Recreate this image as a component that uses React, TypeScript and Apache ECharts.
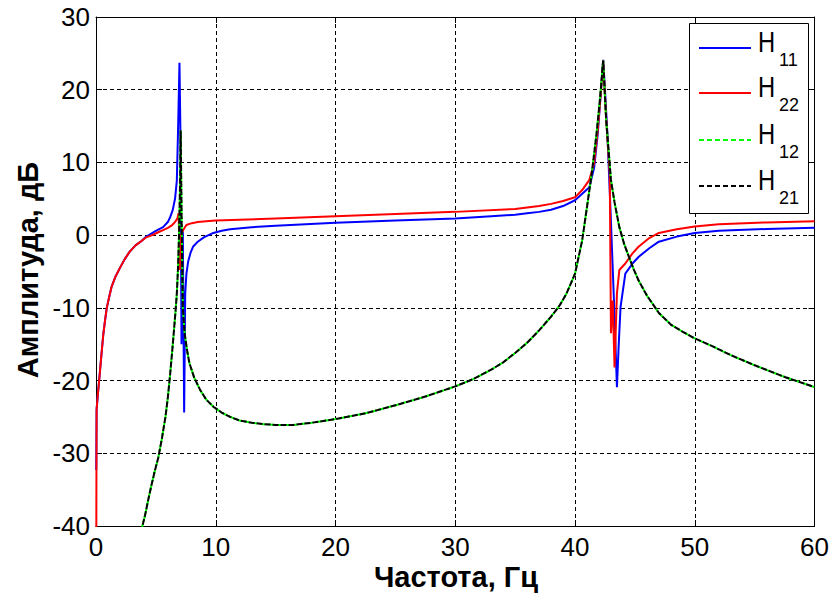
import React, { useEffect, useRef } from "react";
import * as echarts from "echarts";

// ---- data ----
const xTicks = [0, 10, 20, 30, 40, 50, 60];
const yTicks = [-40, -30, -20, -10, 0, 10, 20, 30];

const freqH11 = [0.02, 0.05, 0.15, 0.3, 0.45, 0.6, 0.75, 0.9, 1.1, 1.3, 1.6, 2.0, 2.4, 2.8, 3.3, 3.8, 4.2, 5.0, 5.6, 6.0, 6.2, 6.4, 6.6, 6.75, 6.86, 6.97, 7.05, 7.14, 7.25, 7.36, 7.45, 7.55, 7.7, 7.9, 8.1, 8.5, 9.0, 9.8, 10.5, 11.2, 13, 15, 20, 25, 30, 33, 35, 36, 37, 38, 39, 40, 40.6, 41.2, 41.6, 41.9, 42.15, 42.35, 42.5, 42.7, 42.95, 43.25, 43.5, 43.65, 43.8, 44.2, 44.8, 45.3, 46.2, 47, 48.5, 50, 52, 56, 60];
const ampH11 = [-32.3, -24, -22, -19.3, -16.5, -13.8, -11.8, -10, -8.5, -7.1, -5.8, -4.5, -3.3, -2.3, -1.4, -0.8, -0.2, 0.6, 1.1, 1.8, 2.5, 3.4, 5.0, 7.5, 15, 23.7, 14, -15, 0.5, -24.4, -8, -5.3, -3.6, -2.4, -1.6, -0.9, -0.3, 0.3, 0.6, 0.8, 1.1, 1.3, 1.7, 2.0, 2.3, 2.6, 2.8, 3.0, 3.2, 3.5, 4.0, 4.8, 5.7, 6.6, 9.3, 14, 19.5, 24.1, 20, 14, 4, -9, -20.9, -15, -9.9, -5.3, -3.9, -3.0, -1.8, -0.9, -0.2, 0.3, 0.6, 0.85, 1.0];

const freqH22 = [0.02, 0.05, 0.15, 0.3, 0.45, 0.6, 0.75, 0.9, 1.1, 1.3, 1.6, 2.0, 2.4, 2.8, 3.3, 3.8, 4.2, 4.7, 5.2, 5.6, 6.0, 6.3, 6.6, 6.8, 6.9, 7.0, 7.1, 7.28, 7.55, 8.0, 8.5, 9.2, 10, 15, 20, 25, 30, 35, 36, 37, 38, 39, 40, 40.6, 41.2, 41.6, 41.9, 42.15, 42.35, 42.6, 42.9, 43.0, 43.15, 43.3, 43.5, 43.7, 44.2, 44.8, 45.3, 46.2, 47, 48.5, 50, 52, 56, 60];
const ampH22 = [-45, -24, -22, -19.3, -16.5, -13.8, -11.8, -10, -8.5, -7.1, -5.8, -4.5, -3.3, -2.3, -1.4, -0.8, -0.3, 0.0, 0.4, 0.7, 1.0, 1.3, 1.8, 2.3, 3.0, -4.8, 0.0, 0.7, 1.4, 1.65, 1.8, 1.9, 2.0, 2.3, 2.6, 2.9, 3.2, 3.6, 3.8, 4.0, 4.3, 4.7, 5.2, 6.2, 7.6, 10, 14.5, 19.5, 24.0, 16, 8.5, -13.5, -9, -18.2, -8, -4.8, -3.9, -2.5, -1.6, -0.4, 0.3, 0.8, 1.2, 1.5, 1.75, 1.9];

const freqCross = [3.8, 4.1, 4.35, 4.6, 4.9, 5.2, 5.5, 5.8, 6.0, 6.17, 6.35, 6.5, 6.65, 6.75, 6.85, 6.95, 7.03, 7.07, 7.15, 7.25, 7.4, 7.6, 7.8, 8.2, 8.7, 9.2, 9.8, 10.5, 11.2, 12, 13, 14, 15, 16.5, 18, 20, 22.5, 25, 27.5, 30, 31.5, 33, 34, 35, 36, 37, 38, 38.7, 39.3, 40, 40.6, 41, 41.4, 41.8, 42.1, 42.35, 42.6, 43, 43.3, 43.7, 44.1, 44.5, 44.9, 45.3, 46, 47, 48, 49, 50, 51.5, 53, 55, 57.5, 60];
const ampH12 = [-40.5, -38.5, -36.5, -34.6, -32.5, -30.6, -28, -25, -22.3, -19.5, -16.2, -13.3, -10.3, -8, -4.5, 1, 8, 14.4, 2, -10, -13.5, -15.8, -17.6, -19.6, -21.3, -22.6, -23.6, -24.4, -25, -25.5, -25.8, -26.0, -26.1, -26.1, -25.8, -25.3, -24.5, -23.4, -22.2, -20.8, -19.8, -18.5, -17.5, -16.2, -14.8, -13.1, -11.2, -9.7, -8, -5.3, -0.7, 3.9, 8.5, 14, 19, 24, 15.8, 7.6, 4.5, 1.1, -1.2, -3, -4.7, -6.2, -8.3, -10.7, -12.3, -13.3, -14.2, -15.3, -16.5, -17.9, -19.5, -20.9];
const ampH21 = [-40.5, -38.5, -36.5, -34.6, -32.5, -30.6, -28, -25, -22.3, -19.5, -16.2, -13.3, -10.3, -8, -4.5, 1, 8, 14.4, 2, -10, -13.5, -15.8, -17.6, -19.6, -21.3, -22.6, -23.6, -24.4, -25, -25.5, -25.8, -26.0, -26.1, -26.1, -25.8, -25.3, -24.5, -23.4, -22.2, -20.8, -19.8, -18.5, -17.5, -16.2, -14.8, -13.1, -11.2, -9.7, -8, -5.3, -0.7, 3.9, 8.5, 14, 19, 24, 15.8, 7.6, 4.5, 1.1, -1.2, -3, -4.7, -6.2, -8.3, -10.7, -12.3, -13.3, -14.2, -15.3, -16.5, -17.9, -19.5, -20.9];

const seriesNames = ["H11", "H22", "H12", "H21"];
const legendSubs = ["11", "22", "12", "21"];

const zip = (xs: number[], ys: number[]) => xs.map((x, i) => [x, ys[i]]);

const FONT = "Arial, 'Liberation Sans', Helvetica, sans-serif";

export default function App() {
  const ref = useRef<HTMLDivElement>(null);
  useEffect(() => {
    if (!ref.current) return;
    const chart = echarts.init(ref.current, null, { renderer: "svg" });

    const baseAxis = {
      type: "value" as const,
      axisLine: { show: true, onZero: false, lineStyle: { color: "#000", width: 1 } },
      axisTick: { show: true, inside: true, length: 6, lineStyle: { color: "#000", width: 1 } },
    };

    const legendItems: any[] = [];
    const legendColors = ["#0000ff", "#ff0000", "#00ff00", "#000000"];
    const legendDash: any[] = [null, null, [5, 3], [5, 3]];
    const legendY = [48, 93, 140, 186];
    legendItems.push({
      type: "rect",
      shape: { x: 689.5, y: 23.5, width: 119, height: 190 },
      style: { fill: "#fff", stroke: "#000", lineWidth: 1 },
      z: 100,
    });
    legendY.forEach((y, i) => {
      legendItems.push({
        type: "line",
        shape: { x1: 699, y1: y, x2: 751, y2: y },
        style: { stroke: legendColors[i], lineWidth: 2, lineDash: legendDash[i] || undefined },
        z: 101,
      });
      legendItems.push({
        type: "text",
        x: 758,
        y: y - 5.5,
        scaleX: 0.82,
        style: { text: "H", fontSize: 29, fontFamily: FONT, fill: "#000", align: "left", verticalAlign: "middle" },
        z: 101,
      });
      legendItems.push({
        type: "text",
        x: 779,
        y: y + 11.5,
        style: { text: legendSubs[i], fontSize: 18, fontFamily: FONT, fill: "#000", align: "left", verticalAlign: "middle" },
        z: 101,
      });
    });

    const option: any = {
      animation: false,
      backgroundColor: "#fff",
      grid: { left: 96, right: 16, top: 17, bottom: 68, show: false },
      xAxis: [
        {
          ...baseAxis,
          position: "bottom",
          min: xTicks[0],
          max: xTicks[xTicks.length - 1],
          interval: 10,
          axisLabel: { color: "#000", fontSize: 26, fontFamily: FONT, margin: 8 },
          splitLine: { show: true, lineStyle: { color: "#000", type: [4, 3], width: 1 } },
        },
        {
          ...baseAxis,
          position: "top",
          min: xTicks[0],
          max: xTicks[xTicks.length - 1],
          interval: 10,
          axisLabel: { show: false },
          splitLine: { show: false },
        },
      ],
      yAxis: [
        {
          ...baseAxis,
          position: "left",
          min: yTicks[0],
          max: yTicks[yTicks.length - 1],
          interval: 10,
          axisLabel: { color: "#000", fontSize: 26, fontFamily: FONT, margin: 6 },
          splitLine: { show: true, lineStyle: { color: "#000", type: [4, 3], width: 1 } },
        },
        {
          ...baseAxis,
          position: "right",
          min: yTicks[0],
          max: yTicks[yTicks.length - 1],
          interval: 10,
          axisLabel: { show: false },
          splitLine: { show: false },
        },
      ],
      series: [
        {
          name: seriesNames[0], type: "line", showSymbol: false, symbol: "none", clip: true,
          data: zip(freqH11, ampH11),
          lineStyle: { color: "#0000ff", width: 2 }, itemStyle: { color: "#0000ff" }, z: 2,
        },
        {
          name: seriesNames[1], type: "line", showSymbol: false, symbol: "none", clip: true,
          data: zip(freqH22, ampH22),
          lineStyle: { color: "#ff0000", width: 2 }, itemStyle: { color: "#ff0000" }, z: 3,
        },
        {
          name: seriesNames[2], type: "line", showSymbol: false, symbol: "none", clip: true,
          data: zip(freqCross, ampH12),
          lineStyle: { color: "#00ff00", width: 2, type: [6, 2], dashOffset: 0 }, itemStyle: { color: "#00ff00" }, z: 4,
        },
        {
          name: seriesNames[3], type: "line", showSymbol: false, symbol: "none", clip: true,
          data: zip(freqCross, ampH21),
          lineStyle: { color: "#000000", width: 2, type: [6, 2], dashOffset: 3 }, itemStyle: { color: "#000" }, z: 5,
        },
      ],
      graphic: [
        {
          type: "text",
          x: 456,
          y: 577,
          style: { text: "Частота, Гц", fontSize: 29, fontWeight: "bold", fontFamily: FONT, fill: "#000", align: "center", verticalAlign: "middle" },
        },
        {
          type: "text",
          x: 28,
          y: 270,
          rotation: Math.PI / 2,
          style: { text: "Амплитуда, дБ", fontSize: 29, fontWeight: "bold", fontFamily: FONT, fill: "#000", align: "center", verticalAlign: "middle" },
        },
        ...legendItems,
      ],
    };
    chart.setOption(option);
    return () => chart.dispose();
  }, []);

  return (
    <div
      ref={ref}
      style={{ position: "fixed", left: 0, top: 0, width: 832, height: 594, background: "#fff" }}
    />
  );
}
